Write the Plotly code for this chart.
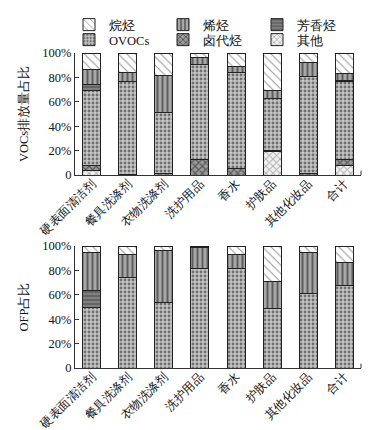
import plotly.graph_objects as go

categories = ["硬表面清洁剂", "餐具洗涤剂", "衣物洗涤剂", "洗护用品", "香水", "护肤品", "其他化妆品", "合计"]
series_names = ["其他", "卤代烃", "OVOCs", "芳香烃", "烯烃", "烷烃"]

# VOCs emission share (%), bottom to top
voc_other    = [3.5, 0.0, 0.0, 0.0, 0.0, 19.4, 0.0, 8.0]
voc_halo     = [4.5, 0.5, 1.5, 12.5, 5.7, 0.8, 1.2, 4.5]
voc_ovoc     = [61.0, 76.3, 50.1, 77.9, 78.7, 42.3, 79.7, 64.4]
voc_arom     = [5.0, 0.0, 0.0, 0.0, 0.0, 0.0, 0.0, 0.4]
voc_alkene   = [12.3, 7.6, 29.8, 6.3, 4.7, 6.9, 11.5, 5.5]
voc_alkane   = [13.7, 15.6, 18.6, 3.3, 10.9, 30.6, 7.6, 17.2]

# OFP share (%), bottom to top
ofp_other    = [0, 0, 0, 0, 0, 0, 0, 0]
ofp_halo     = [0, 0, 0, 0, 0, 0, 0, 0]
ofp_ovoc     = [49.2, 73.8, 53.8, 81.4, 81.7, 48.9, 60.7, 67.5]
ofp_arom     = [14.2, 0, 0, 0, 0, 0, 0, 0]
ofp_alkene   = [31.4, 19.6, 42.2, 17.0, 11.7, 22.1, 34.1, 18.8]
ofp_alkane   = [5.2, 6.6, 4.0, 1.6, 6.6, 29.0, 5.2, 13.7]

ytick_vals = [0, 20, 40, 60, 80, 100]
ytick_text = ["0", "20%", "40%", "60%", "80%", "100%"]

patterns = {
    "其他":  dict(shape="x", fgcolor="#6a6a6a", bgcolor="#f2f2f2", size=5, solidity=0.35),
    "卤代烃": dict(shape="x", fgcolor="#111111", bgcolor="#9a9a9a", size=5, solidity=0.4),
    "OVOCs": dict(shape=".", fgcolor="#1a1a1a", bgcolor="#c4c4c4", size=4, solidity=0.4),
    "芳香烃": dict(shape="-", fgcolor="#3a3a3a", bgcolor="#808080", size=4, solidity=0.4),
    "烯烃":  dict(shape="|", fgcolor="#111111", bgcolor="#a8a8a8", size=5, solidity=0.4),
    "烷烃":  dict(shape="\\", fgcolor="#333333", bgcolor="#ffffff", size=6, solidity=0.18),
}
legend_of = {"烷烃": "legend", "烯烃": "legend", "芳香烃": "legend",
             "OVOCs": "legend2", "卤代烃": "legend2", "其他": "legend2"}

voc_data = [voc_other, voc_halo, voc_ovoc, voc_arom, voc_alkene, voc_alkane]
ofp_data = [ofp_other, ofp_halo, ofp_ovoc, ofp_arom, ofp_alkene, ofp_alkane]

FONT = "Liberation Serif, serif"

fig = go.Figure()
for name, vals in zip(series_names, voc_data):
    fig.add_trace(go.Bar(
        x=categories, y=vals, name=name, xaxis="x", yaxis="y",
        marker=dict(color=patterns[name]["bgcolor"], pattern=patterns[name],
                    line=dict(color="#222222", width=1)),
        showlegend=True, legendgroup=name, legend=legend_of[name],
    ))
for name, vals in zip(series_names, ofp_data):
    fig.add_trace(go.Bar(
        x=categories, y=vals, name=name, xaxis="x2", yaxis="y2",
        marker=dict(color=patterns[name]["bgcolor"], pattern=patterns[name],
                    line=dict(color="#222222", width=1)),
        showlegend=False, legendgroup=name, legend=legend_of[name],
    ))

axis_common_x = dict(
    type="category", range=[-0.47, 7.47], showline=True, linecolor="#333333",
    linewidth=1, ticks="", tickangle=-45, showgrid=False, ticklabelstandoff=-4,
    tickfont=dict(family=FONT, size=12, color="#111111"),
)
axis_common_y = dict(
    range=[0, 100], tickvals=ytick_vals, ticktext=ytick_text, showline=True,
    linecolor="#333333", linewidth=1, ticks="inside", ticklen=4, tickcolor="#333333",
    showgrid=False, zeroline=False,
    tickfont=dict(family=FONT, size=12.5, color="#111111"),
)

legend_common = dict(orientation="h", traceorder="reversed",
                     xref="container", xanchor="left", yref="container", yanchor="middle",
                     entrywidth=49, entrywidthmode="pixels", itemwidth=30,
                     font=dict(family=FONT, size=12.5), bgcolor="rgba(0,0,0,0)",
                     tracegroupgap=0, itemclick=False, itemdoubleclick=False)

fig.update_layout(
    width=392, height=430,
    margin=dict(l=67, r=39, t=45, b=70, autoexpand=False),
    paper_bgcolor="white", plot_bgcolor="white",
    barmode="stack", bargap=0.5,
    font=dict(family=FONT, size=12, color="#111111"),
    xaxis=dict(axis_common_x, domain=[0, 1], anchor="y"),
    yaxis=dict(axis_common_y, domain=[0.6127, 1], anchor="x",
               title=dict(text="VOCs排放量占比", standoff=10, font=dict(family=FONT, size=12.5))),
    xaxis2=dict(axis_common_x, domain=[0, 1], anchor="y2"),
    yaxis2=dict(axis_common_y, domain=[0, 0.3873], anchor="x2",
                title=dict(text="OFP占比", standoff=10, font=dict(family=FONT, size=12.5))),
    legend=dict(legend_common, x=61 / 392, y=1 - 17 / 430),
    legend2=dict(legend_common, x=61 / 392, y=1 - 32 / 430),
    shapes=[
        dict(type="line", xref="x domain", yref="y domain", x0=1, x1=1, y0=0, y1=0.035,
             line=dict(color="#333333", width=1)),
        dict(type="line", xref="x2 domain", yref="y2 domain", x0=1, x1=1, y0=0, y1=0.035,
             line=dict(color="#333333", width=1)),
    ],
)

fig.write_html("out.html")
